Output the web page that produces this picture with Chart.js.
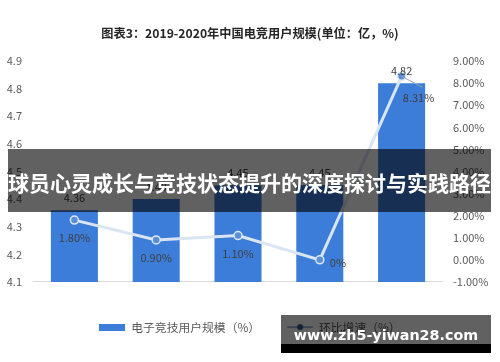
<!DOCTYPE html>
<html><head><meta charset="utf-8">
<script src="https://cdn.jsdelivr.net/npm/chart.js@4.4.1/dist/chart.umd.min.js"></script>
<style>
html,body{margin:0;padding:0;background:#fff;}
#wrap{position:relative;width:500px;height:362px;overflow:hidden;background:#fff;}
#c{position:absolute;left:0;top:0;width:500px;height:362px;}
#banner{position:absolute;left:8px;top:149px;width:483px;height:63px;background:rgba(0,0,0,0.62);color:#fff;font-family:'Noto Sans CJK SC',sans-serif;font-weight:bold;font-size:21px;line-height:25px;display:flex;align-items:center;justify-content:center;white-space:nowrap;padding-top:4px;box-sizing:border-box;}
#wm{position:absolute;left:281px;top:315px;width:210px;height:38px;background:linear-gradient(rgba(0,0,0,0.62) 0px,rgba(0,0,0,0.62) 29px,#000 29px,#000 38px);}
#wm span{position:absolute;left:0;top:12px;width:100%;text-align:center;color:#fff;font-family:'DejaVu Sans',sans-serif;font-weight:bold;font-size:14.3px;line-height:17px;white-space:nowrap;}
</style>
</head><body>
<div id="wrap">
<canvas id="c" width="500" height="362"></canvas>
<div id="banner">球员心灵成长与竞技状态提升的深度探讨与实践路径</div>
<div id="wm"><span>www.zh5-yiwan28.com</span></div>
</div>
<script>
const chartTitle = '图表3：2019-2020年中国电竞用户规模(单位：亿，%)';
const categories = ['2019年Q1', '2019年Q2', '2019年Q3', '2019年Q4', '2020年Q1'];
const userScale = [4.36, 4.40, 4.45, 4.45, 4.82];
const growthRate = [1.80, 0.90, 1.10, 0, 8.31];
const seriesNames = ['电子竞技用户规模（%）', '环比增速（%）'];
const leftAxis = { min: 4.1, max: 4.9, step: 0.1 };
const rightAxis = { min: -1, max: 9, step: 1 };

const BAR_COLOR = '#3b7dd8';
const LINE_COLOR = '#dae5f3';
const FONT = "'Noto Sans CJK SC', 'Liberation Sans', sans-serif";

function fmtPct(v) { return v === 0 ? '0%' : v.toFixed(2) + '%'; }

// legend icons
const barIcon = document.createElement('canvas');
barIcon.width = 26; barIcon.height = 7;
(function(){ const g = barIcon.getContext('2d'); g.fillStyle = BAR_COLOR; g.fillRect(0,0,26,7); })();
const lineIcon = document.createElement('canvas');
lineIcon.width = 26; lineIcon.height = 8;
(function(){ const g = lineIcon.getContext('2d'); g.strokeStyle = '#9fb6d6'; g.lineWidth = 2; g.beginPath(); g.moveTo(0,4); g.lineTo(26,4); g.stroke(); g.fillStyle = '#2f5597'; g.beginPath(); g.arc(13,4,3,0,Math.PI*2); g.fill(); })();

const labelPlugin = {
  id: 'valueLabels',
  afterDatasetsDraw(chart) {
    const ctx = chart.ctx;
    ctx.save();
    ctx.font = '11px ' + FONT;
    ctx.fillStyle = '#404040';
    ctx.textAlign = 'center';
    ctx.textBaseline = 'middle';
    chart.getDatasetMeta(0).data.forEach((el, i) => {
      ctx.fillText(userScale[i].toFixed(2), el.x, el.y - 12);
    });
    chart.getDatasetMeta(1).data.forEach((el, i) => {
      const t = fmtPct(growthRate[i]);
      if (i === 3) {
        ctx.textAlign = 'left';
        ctx.fillText(t, el.x + 10, el.y + 3);
        ctx.textAlign = 'center';
      } else if (i === 4) {
        ctx.strokeStyle = '#9aa6b4';
        ctx.lineWidth = 1;
        ctx.beginPath(); ctx.moveTo(el.x, el.y); ctx.lineTo(el.x + 21, el.y + 11); ctx.stroke();
        ctx.fillText(t, el.x + 17, el.y + 22);
      } else {
        ctx.fillText(t, el.x, el.y + 18);
      }
    });
    ctx.restore();
  }
};

new Chart(document.getElementById('c'), {
  data: {
    labels: categories,
    datasets: [
      {
        type: 'bar', label: seriesNames[0], data: userScale, yAxisID: 'y',
        backgroundColor: BAR_COLOR, borderWidth: 0,
        barPercentage: 0.575, categoryPercentage: 1.0, order: 0
      },
      {
        type: 'line', label: seriesNames[1], data: growthRate, yAxisID: 'y1',
        borderColor: LINE_COLOR, borderWidth: 3, tension: 0,
        pointRadius: 4, pointBackgroundColor: '#5a8fd8', pointBorderColor: '#dce7f4', pointBorderWidth: 1.5,
        order: -1
      }
    ]
  },
  options: {
    responsive: false, animation: false, devicePixelRatio: 1,
    layout: { padding: { top: 0, left: 0, right: 0, bottom: 19 } },
    plugins: {
      tooltip: { enabled: false },
      title: {
        display: true, text: chartTitle, color: '#262626',
        font: { family: FONT, size: 12.2, weight: 'bold' },
        padding: { top: 26.5, bottom: 19.9 }
      },
      legend: {
        position: 'bottom',
        labels: {
          color: '#595959', font: { family: FONT, size: 11.8 },
          padding: 27, boxWidth: 26, boxHeight: 7,
          usePointStyle: true, pointStyleWidth: 26,
          sort: (a, b) => a.datasetIndex - b.datasetIndex,
          generateLabels(chart) {
            const items = Chart.defaults.plugins.legend.labels.generateLabels(chart);
            items.forEach(it => { it.pointStyle = it.datasetIndex === 0 ? barIcon : lineIcon; it.lineWidth = 0; });
            return items;
          }
        }
      }
    },
    scales: {
      x: {
        grid: { display: false, drawTicks: false },
        border: { display: true, color: '#d9d9d9', width: 1 },
        ticks: { color: '#595959', font: { family: FONT, size: 11.5 }, padding: 11.4, maxRotation: 0 },
        afterFit(s) { s.height = 12.25; }
      },
      y: {
        position: 'left', min: leftAxis.min, max: leftAxis.max,
        grid: { display: false, drawTicks: false },
        border: { display: false },
        ticks: { stepSize: leftAxis.step, color: '#595959', font: { family: FONT, size: 11 }, padding: 11.5,
          callback: v => Number(v).toFixed(1) },
        afterFit(s) { s.width = 33.5; }
      },
      y1: {
        position: 'right', min: rightAxis.min, max: rightAxis.max,
        grid: { display: false, drawTicks: false },
        border: { display: false },
        ticks: { stepSize: rightAxis.step, color: '#595959', font: { family: FONT, size: 11 }, padding: 10.5,
          callback: v => Number(v).toFixed(2) + '%' },
        afterFit(s) { s.width = 57.5; }
      }
    }
  },
  plugins: [labelPlugin]
});
</script>
</body></html>
